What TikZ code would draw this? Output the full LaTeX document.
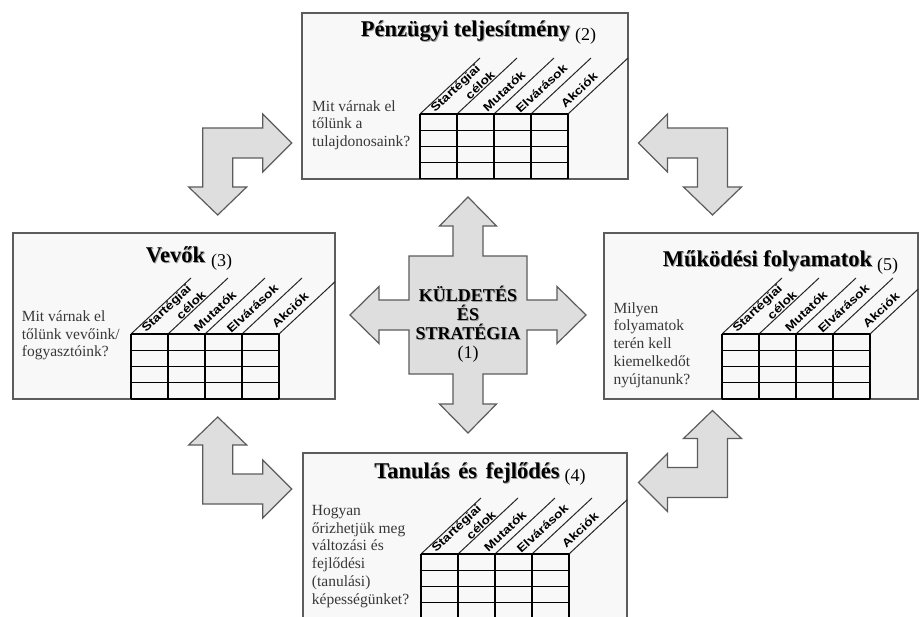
\documentclass[tikz,border=0pt]{standalone}
\usepackage{fontspec}
\setmainfont{Liberation Serif}
\newfontfamily\cimkefont{Liberation Sans}

\definecolor{nyilszurke}{HTML}{DEDEDE}
\definecolor{keretszurke}{HTML}{5C5C5C}
\definecolor{lapszurke}{HTML}{F8F8F8}
\definecolor{kerdesszin}{HTML}{383838}

% bold text with a soft drop shadow
\newcommand{\arnyek}[1]{\rlap{\kern1pt\raisebox{-1pt}{\color{black!40}#1}}#1}
\newcommand{\sorszam}[1]{\raisebox{-3.5pt}{\mdseries\fontsize{18}{18}\selectfont(#1)}}

\begin{document}
\begin{tikzpicture}[x=1pt, y=-1pt,
  panel/.style={draw=keretszurke, fill=lapszurke, line width=1.4pt},
  tabla/.style={draw=black, line width=1.3pt},
  atlo/.style={draw=black!85, line width=1pt},
  nyil/.style={draw=keretszurke, fill=nyilszurke, line width=1.2pt, line join=miter},
  cim/.style={font=\fontsize{22.5}{24}\selectfont\bfseries, anchor=base, inner sep=0pt},
  kozep/.style={font=\fontsize{18}{19}\selectfont\bfseries, align=center, anchor=base, inner sep=0pt},
  kerdes/.style={font=\fontsize{15.5}{17.7}\selectfont, text=kerdesszin, align=left, anchor=base west, inner sep=0pt},
  oszlop/.style={font=\cimkefont\fontsize{11.5}{11.5}\selectfont\bfseries, rotate=43, inner sep=0pt, text=black}]

  \clip (0,0) rectangle (920,617);
  \fill[white] (0,0) rectangle (920,617);

  % The four perspective boxes with their tables
  \foreach \bx/\by/\bw/\nv in {302/13/326/a, 13/233/322/b, 604/233/314/c, 303/453/324/d} {
    \draw[panel] (\bx,\by) rectangle ++(\bw,166);
    \begin{scope}
      \clip (\bx,\by) rectangle ++(\bw,166);
      \begin{scope}[shift={(\bx+118,\by+101)}]
        % slanted column heads
        \foreach \i in {0,...,4}
          \draw[atlo] (\i*37,0) -- ++(60,-56);
        % grid
        \foreach \i in {0,...,4}
          \draw[tabla] (\i*37,0) -- (\i*37,65);
        \foreach \j in {0,16.25,32.5,48.75,65}
          \draw[tabla] (0,\j) -- (148,\j);
        % column labels
        \node[oszlop] (strat\nv) at (36,-25) {\scalebox{1.2}[1]{Startégiai}};
        \node[oszlop] (celok\nv) at (60,-29) {\scalebox{1.2}[1]{célok}};
        \node[oszlop] (mutato\nv) at (84,-23) {\scalebox{1.2}[1]{Mutatók}};
        \node[oszlop] (elvaras\nv) at (121.5,-25.5) {\scalebox{1.2}[1]{Elvárások}};
        \node[oszlop] (akcio\nv) at (159,-24) {\scalebox{1.2}[1]{Akciók}};
      \end{scope}
    \end{scope}
  }

  % Titles
  \node[cim] (penzugyi) at (478.5,36.7) {\arnyek{Pénzügyi teljesítmény}\hspace{5pt}\sorszam{2}};
  \node[cim] (vevok) at (189,262.7) {\arnyek{Vevők}\hspace{6pt}\sorszam{3}};
  \node[cim] (mukodesi) at (780.5,266.7) {\arnyek{Működési folyamatok}\hspace{5pt}\sorszam{5}};
  \node[cim] (tanulas) at (480,478.3) {\arnyek{Tanulás\hspace{3pt} és\hspace{3pt} fejlődés}\hspace{5pt}\sorszam{4}};

  % Questions (anchored at the baseline of the last line)
  \node[kerdes] (kerdes2) at (312,146.7) {Mit várnak el\\tőlünk a\\tulajdonosaink?};
  \node[kerdes] (kerdes3) at (21.7,356.7) {Mit várnak el\\tőlünk vevőink/\\fogyasztóink?};
  \node[kerdes] (kerdes5) at (613.3,384) {Milyen\\folyamatok\\terén kell\\kiemelkedőt\\nyújtanunk?};
  \node[kerdes] (kerdes4) at (311.7,604) {Hogyan\\őrizhetjük meg\\változási és\\fejlődési\\(tanulási)\\képességünket?};

  % Bent double arrows in the corners
  \foreach \cx/\cy/\sx/\sy in {217.7/143/1/1, 712.5/143/-1/1, 217.7/489/1/-1, 712.5/482.5/-1/-1}
    \draw[nyil, shift={(\cx,\cy)}, xscale=\sx, yscale=\sy]
      (-15,-15) -- (45,-15) -- (45,-29) -- (74,0) -- (45,29) -- (45,15) -- (15,15)
      -- (15,44) -- (29,44) -- (0,72) -- (-29,44) -- (-15,44) -- cycle;

  % Four-way arrow in the middle
  \draw[nyil, shift={(468,315)}]
    (-59,-59) -- (-15,-59) -- (-15,-89) -- (-28.5,-89) -- (0,-118) -- (28.5,-89) -- (15,-89) -- (15,-59)
    -- (59,-59) -- (59,-15) -- (89,-15) -- (89,-28.5) -- (118,0) -- (89,28.5) -- (89,15) -- (59,15)
    -- (59,59) -- (15,59) -- (15,89) -- (28.5,89) -- (0,118) -- (-28.5,89) -- (-15,89) -- (-15,59)
    -- (-59,59) -- (-59,15) -- (-89,15) -- (-89,28.5) -- (-118,0) -- (-89,-28.5) -- (-89,-15) -- (-59,-15) -- cycle;
  \node[kozep] (kuldetes) at (468,358) {\arnyek{KÜLDETÉS}\\\arnyek{ÉS}\\\arnyek{STRATÉGIA}\\\mdseries(1)};

\end{tikzpicture}
\end{document}
